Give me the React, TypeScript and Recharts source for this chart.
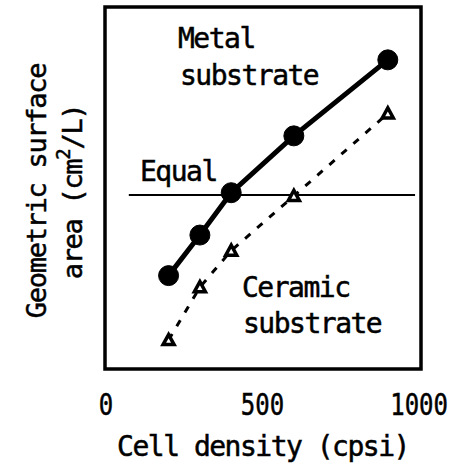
import React from 'react';
import { LineChart, Line, XAxis, YAxis, ReferenceLine, ReferenceArea, Customized } from 'recharts';

// cell density (cpsi) and geometric surface area (arbitrary units, no scale printed)
const cellDensity = [200, 300, 400, 600, 900];
const metalArea = [25.8, 37.0, 48.7, 64.4, 85.4];
const ceramicArea = [8.0, 22.6, 32.7, 47.8, 70.6];
const equalArea = 48.1;
const equalSpan = [73, 987];
const xTicks = [0, 500, 1000];

const data = cellDensity.map((cd, i) => ({
  cd,
  metal: metalArea[i],
  ceramic: ceramicArea[i],
}));

const FONT = '"DejaVu Sans Mono", monospace';

const XTick = (props: any) => {
  const { x, y, payload } = props;
  return (
    <text
      x={x}
      y={y + 38}
      textAnchor="middle"
      fontFamily={FONT}
      fontSize={30}
      fill="#000"
      stroke="#000"
      strokeWidth={0.5}
      transform={`translate(${x} 0) scale(0.8 1) translate(${-x} 0)`}
    >
      {payload.value}
    </text>
  );
};

const Triangle = (props: any) => {
  const { cx, cy, index } = props;
  if (cx == null || cy == null) return null;
  return (
    <path
      key={`tri-${index}`}
      d={`M${cx},${cy - 5.5} L${cx + 5.5},${cy + 4.5} L${cx - 5.5},${cy + 4.5} Z`}
      fill="#fff"
      stroke="#000"
      strokeWidth={3.5}
    />
  );
};

const YLabel = () => (
  <g fontFamily={FONT} fontSize={27} fill="#000" letterSpacing={-1.3}>
    <text x={46} y={191} textAnchor="middle" transform="rotate(-90 46 191)">
      Geometric surface
    </text>
    <text x={82} y={192} textAnchor="middle" transform="rotate(-90 82 192)">
      area (cm<tspan fontSize={19} dy={-12}>2</tspan>
      <tspan dy={12}>/L)</tspan>
    </text>
  </g>
);

const Notes = () => (
  <g fontFamily={FONT} fontSize={28} fill="#000" stroke="#000" strokeWidth={0.5} letterSpacing={-1.5}>
    <text x={178} y={48}>Metal</text>
    <text x={180} y={85}>substrate</text>
    <text x={140} y={181}>Equal</text>
    <text x={242} y={297}>Ceramic</text>
    <text x={243} y={333}>substrate</text>
    <YLabel />
  </g>
);

export default function App() {
  return (
    <div style={{ position: 'absolute', left: 0, top: 0, background: '#fff' }}>
      <LineChart
        width={456}
        height={468}
        data={data}
        margin={{ top: 7, right: 35, left: 0, bottom: 0 }}
      >
        <XAxis
          dataKey="cd"
          type="number"
          domain={[-3, 1006]}
          ticks={xTicks}
          axisLine={false}
          tickLine={false}
          height={99}
          tick={<XTick />}
          label={{
            value: 'Cell density (cpsi)',
            position: 'insideBottom',
            offset: 12,
            style: {
              fontFamily: FONT,
              fontSize: 28,
              fill: '#000',
              stroke: '#000',
              strokeWidth: 0.5,
              letterSpacing: -1.5,
            },
          }}
        />
        <YAxis
          type="number"
          domain={[0, 100]}
          width={105}
          tick={false}
          axisLine={false}
          tickLine={false}
        />
        <ReferenceArea
          x1={-3}
          x2={1006}
          y1={0}
          y2={100}
          fill="none"
          stroke="#000"
          strokeWidth={3.5}
          ifOverflow="visible"
        />
        <ReferenceLine
          segment={[
            { x: equalSpan[0], y: equalArea },
            { x: equalSpan[1], y: equalArea },
          ]}
          stroke="#000"
          strokeWidth={2}
        />
        <Line
          dataKey="ceramic"
          type="linear"
          stroke="#000"
          strokeWidth={3}
          strokeDasharray="7 9"
          dot={(p: any) => <Triangle key={`t-${p.index}`} {...p} />}
          isAnimationActive={false}
        />
        <Line
          dataKey="metal"
          type="linear"
          stroke="#000"
          strokeWidth={5}
          dot={{ r: 10, fill: '#000', stroke: '#000', strokeWidth: 1 }}
          isAnimationActive={false}
        />
        <Customized component={<Notes />} />
      </LineChart>
    </div>
  );
}
